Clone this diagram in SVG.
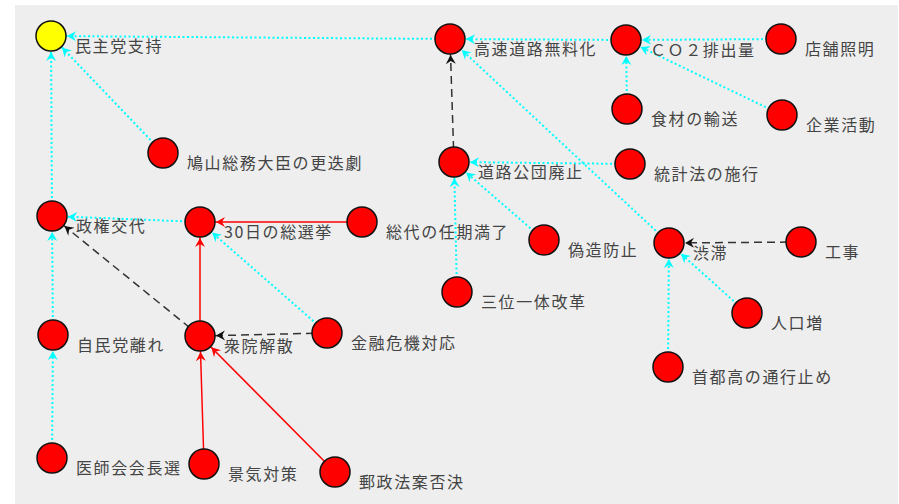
<svg xmlns="http://www.w3.org/2000/svg" width="899" height="504" viewBox="0 0 899 504">
<style>
.bg{fill:#eeeeee}
.n{fill:#ff0000;stroke:#111;stroke-width:1.5}
.y{fill:#ffff00;stroke:#111;stroke-width:1.5}
.t{font-family:"Noto Sans CJK JP","Noto Sans CJK SC",sans-serif;font-size:16px;letter-spacing:1.6px;fill:#444}
.c{stroke:#00ffff;stroke-width:2;stroke-dasharray:2,2.5;fill:none;marker-end:url(#ac)}
.k{stroke:#333;stroke-width:1.5;stroke-dasharray:8,5;fill:none;marker-end:url(#ak)}
.r{stroke:#ff0000;stroke-width:1.5;fill:none;marker-end:url(#ar)}
</style>
<defs>
<marker id="ac" markerUnits="userSpaceOnUse" viewBox="-30 -8 32 16" refX="0" refY="0" markerWidth="32" markerHeight="16" orient="auto" overflow="visible"><path d="M-16,0 L-25,-5 L-22,0 L-25,5 Z" fill="#00ffff"/></marker>
<marker id="ak" markerUnits="userSpaceOnUse" viewBox="-30 -8 32 16" refX="0" refY="0" markerWidth="32" markerHeight="16" orient="auto" overflow="visible"><path d="M-16,0 L-25,-5 L-22,0 L-25,5 Z" fill="#111"/></marker>
<marker id="ar" markerUnits="userSpaceOnUse" viewBox="-30 -8 32 16" refX="0" refY="0" markerWidth="32" markerHeight="16" orient="auto" overflow="visible"><path d="M-16,0 L-25,-5 L-22,0 L-25,5 Z" fill="#ff0000"/></marker>
</defs>
<rect class="bg" x="15" y="5" width="883" height="499"/>
<g id="connectors">
<line class="c" x1="450" y1="39" x2="51" y2="36"/>
<line class="c" x1="163" y1="153" x2="51" y2="36"/>
<line class="c" x1="52" y1="216" x2="51" y2="36"/>
<line class="c" x1="200" y1="222" x2="52" y2="216"/>
<line class="c" x1="53" y1="335" x2="52" y2="216"/>
<line class="c" x1="52" y1="458" x2="53" y2="335"/>
<line class="k" x1="200" y1="336" x2="52" y2="216"/>
<line class="r" x1="200" y1="336" x2="200" y2="222"/>
<line class="r" x1="362" y1="222" x2="200" y2="222"/>
<line class="c" x1="327" y1="333" x2="200" y2="222"/>
<line class="k" x1="327" y1="333" x2="200" y2="336"/>
<line class="r" x1="204" y1="464" x2="200" y2="336"/>
<line class="r" x1="335" y1="472" x2="200" y2="336"/>
<line class="c" x1="626" y1="40" x2="450" y2="39"/>
<line class="c" x1="781" y1="39" x2="626" y2="40"/>
<line class="c" x1="627" y1="109" x2="626" y2="40"/>
<line class="c" x1="782" y1="115" x2="626" y2="40"/>
<line class="k" x1="454" y1="162" x2="450" y2="39"/>
<line class="c" x1="669" y1="243" x2="450" y2="39"/>
<line class="c" x1="630" y1="164" x2="454" y2="162"/>
<line class="c" x1="457" y1="292" x2="454" y2="162"/>
<line class="c" x1="544" y1="240" x2="454" y2="162"/>
<line class="k" x1="801" y1="242" x2="669" y2="243"/>
<line class="c" x1="747" y1="313" x2="669" y2="243"/>
<line class="c" x1="668" y1="367" x2="669" y2="243"/>
</g>
<g id="n1"><circle class="y" cx="51" cy="36" r="15"/><text class="t" x="75" y="52">民主党支持</text></g>
<g id="n2"><circle class="n" cx="163" cy="153" r="15"/><text class="t" x="187" y="169">鳩山総務大臣の更迭劇</text></g>
<g id="n3"><circle class="n" cx="52" cy="216" r="15"/><text class="t" x="76" y="232">政権交代</text></g>
<g id="n4"><circle class="n" cx="200" cy="222" r="15"/><text class="t" x="224" y="238">30日の総選挙</text></g>
<g id="n5"><circle class="n" cx="362" cy="222" r="15"/><text class="t" x="386" y="238">総代の任期満了</text></g>
<g id="n6"><circle class="n" cx="53" cy="335" r="15"/><text class="t" x="77" y="351">自民党離れ</text></g>
<g id="n7"><circle class="n" cx="200" cy="336" r="15"/><text class="t" x="224" y="352">衆院解散</text></g>
<g id="n8"><circle class="n" cx="327" cy="333" r="15"/><text class="t" x="351" y="349">金融危機対応</text></g>
<g id="n9"><circle class="n" cx="52" cy="458" r="15"/><text class="t" x="76" y="474">医師会会長選</text></g>
<g id="n10"><circle class="n" cx="204" cy="464" r="15"/><text class="t" x="228" y="480">景気対策</text></g>
<g id="n11"><circle class="n" cx="335" cy="472" r="15"/><text class="t" x="359" y="488">郵政法案否決</text></g>
<g id="n12"><circle class="n" cx="450" cy="39" r="15"/><text class="t" x="474" y="55">高速道路無料化</text></g>
<g id="n13"><circle class="n" cx="626" cy="40" r="15"/><text class="t" x="650" y="56">ＣＯ２排出量</text></g>
<g id="n14"><circle class="n" cx="781" cy="39" r="15"/><text class="t" x="805" y="55">店舗照明</text></g>
<g id="n15"><circle class="n" cx="627" cy="109" r="15"/><text class="t" x="651" y="125">食材の輸送</text></g>
<g id="n16"><circle class="n" cx="782" cy="115" r="15"/><text class="t" x="806" y="131">企業活動</text></g>
<g id="n17"><circle class="n" cx="454" cy="162" r="15"/><text class="t" x="478" y="178">道路公団廃止</text></g>
<g id="n18"><circle class="n" cx="630" cy="164" r="15"/><text class="t" x="654" y="180">統計法の施行</text></g>
<g id="n19"><circle class="n" cx="544" cy="240" r="15"/><text class="t" x="568" y="256">偽造防止</text></g>
<g id="n20"><circle class="n" cx="669" cy="243" r="15"/><text class="t" x="693" y="259">渋滞</text></g>
<g id="n21"><circle class="n" cx="801" cy="242" r="15"/><text class="t" x="825" y="258">工事</text></g>
<g id="n22"><circle class="n" cx="457" cy="292" r="15"/><text class="t" x="481" y="308">三位一体改革</text></g>
<g id="n23"><circle class="n" cx="747" cy="313" r="15"/><text class="t" x="771" y="329">人口増</text></g>
<g id="n24"><circle class="n" cx="668" cy="367" r="15"/><text class="t" x="692" y="383">首都高の通行止め</text></g>
</svg>
